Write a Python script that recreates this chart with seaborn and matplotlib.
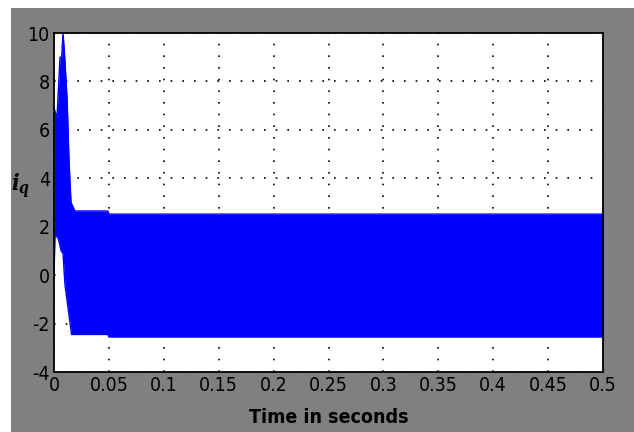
import numpy as np
import pandas as pd
import matplotlib
matplotlib.use("Agg")
import matplotlib.pyplot as plt
import seaborn as sns
from matplotlib.patches import Rectangle

# Envelope of the dense oscillating i_q signal
upper_t = [0.0, 0.0027, 0.0055, 0.0070, 0.0082, 0.0095, 0.0120, 0.0137, 0.0155, 0.0190, 0.0490, 0.0500, 0.5000]
upper_v = [6.9, 6.5, 9.0, 9.0, 10.0, 9.2, 7.2, 4.7, 3.0, 2.65, 2.65, 2.52, 2.52]
lower_t = [0.0, 0.0009, 0.0040, 0.0065, 0.0082, 0.0100, 0.0160, 0.0490, 0.0500, 0.5000]
lower_v = [-0.1, 1.7, 1.5, 1.0, 0.9, -0.4, -2.45, -2.45, -2.55, -2.55]

xticks = [0, 0.05, 0.1, 0.15, 0.2, 0.25, 0.3, 0.35, 0.4, 0.45, 0.5]
xticklabels = ["0", "0.05", "0.1", "0.15", "0.2", "0.25", "0.3", "0.35", "0.4", "0.45", "0.5"]
yticks = [-4, -2, 0, 2, 4, 6, 8, 10]
yticklabels = ["-4", "-2", "0", "2", "4", "6", "8", "10"]

sns.set_style("white")
plt.rcParams['font.family'] = ['DejaVu Sans']
plt.rcParams['font.stretch'] = 'condensed'
plt.rcParams['text.color'] = 'black'
plt.rcParams['mathtext.fontset'] = 'custom'
plt.rcParams['mathtext.it'] = 'DejaVu Serif:italic:bold'
plt.rcParams['mathtext.rm'] = 'DejaVu Serif:bold'

fig = plt.figure(figsize=(6.34, 4.32), dpi=100, facecolor="white")
fig.patches.append(Rectangle((11 / 634, 0), 1, 1 - 8 / 432, transform=fig.transFigure,
                             facecolor="#808080", edgecolor="none", zorder=-10))
ax = fig.add_axes([54 / 634, 1 - 372 / 432, 549 / 634, 339 / 432])
ax.set_zorder(2)
ax.set_facecolor("white")

t_all = np.unique(np.concatenate([upper_t, lower_t]))
up = np.interp(t_all, upper_t, upper_v)
lo = np.interp(t_all, lower_t, lower_v)
df_u = pd.DataFrame({"t": upper_t, "v": upper_v})
df_l = pd.DataFrame({"t": lower_t, "v": lower_v})

ax.grid(True, color="black", linestyle=(0, (1, 6)), linewidth=1.2, zorder=1)
ax.set_axisbelow(True)
ax.fill_between(t_all, lo, up, color="#0000ff", linewidth=0, zorder=2)
sns.lineplot(data=df_u, x="t", y="v", ax=ax, color="#0000ff", linewidth=1.0, zorder=3)
sns.lineplot(data=df_l, x="t", y="v", ax=ax, color="#0000ff", linewidth=1.0, zorder=3)

ax.set_xlim(0, 0.5)
ax.set_ylim(-4, 10)
ax.set_xticks(xticks)
ax.set_xticklabels(xticklabels)
ax.set_yticks(yticks)
ax.set_yticklabels(yticklabels)
ax.tick_params(direction="in", length=5, width=1, colors="black", labelsize=14, pad=3)
for s in ax.spines.values():
    s.set_color("black")
    s.set_linewidth(1.3)
    s.set_zorder(5)

ax.set_xlabel("Time in seconds", fontsize=14, fontweight="bold", labelpad=9, color="black")
ax.set_ylabel("")
fig.text(20 / 634, 1 - 186 / 432, r"$i_q$", fontsize=16,
         ha="center", va="center", color="black", zorder=3)

fig.savefig("out.png", dpi=100, facecolor=fig.get_facecolor())
